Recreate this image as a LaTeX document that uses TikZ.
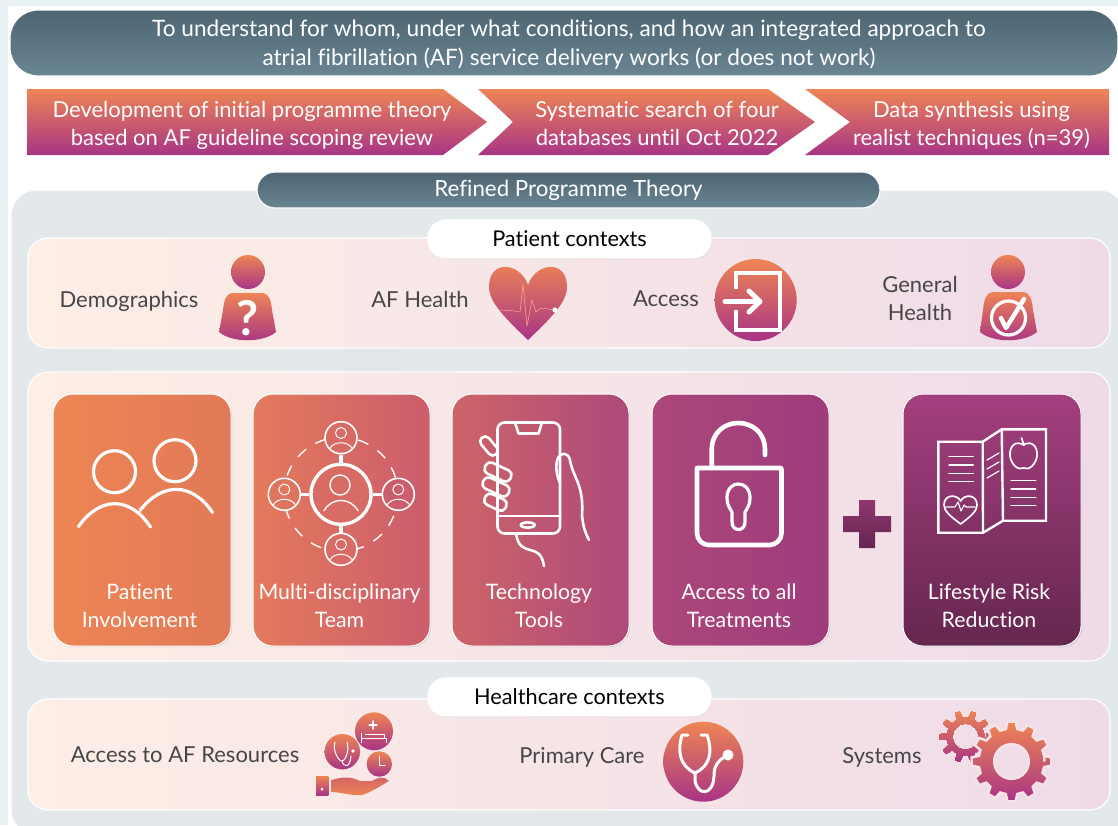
\documentclass[tikz,border=0pt]{standalone}
\usepackage{fontspec}
\setmainfont{Lato}[Ligatures=NoCommon]
\usepackage{xcolor}
\definecolor{ColOrange}{RGB}{238,133,84}
\definecolor{ColPurple}{RGB}{168,52,134}
\definecolor{ColPlum}{RGB}{163,62,128}
\definecolor{ColSlateT}{RGB}{78,101,114}
\definecolor{ColSlateB}{RGB}{106,133,146}
\definecolor{ColPanel}{RGB}{227,233,235}
\definecolor{ColPageL}{RGB}{232,242,245}
\definecolor{ColPeach}{RGB}{253,238,230}
\definecolor{ColPink}{RGB}{239,219,232}
\definecolor{ColText}{RGB}{70,70,72}
\usetikzlibrary{shadows,calc}
\tikzstyle{Grad}=[top color=ColOrange,bottom color=ColPurple]
\tikzstyle{Pill}=[rounded corners=18pt,draw=white,line width=1.2pt,inner sep=0pt]
\tikzstyle{Slate}=[Pill,top color=ColSlateT,bottom color=ColSlateB]
\tikzstyle{Label}=[font=\fontsize{22}{28}\selectfont,text=ColText,align=center]
\tikzstyle{Banner}=[font=\fontsize{22.6}{29}\selectfont,text=white,align=center]
\tikzstyle{StepText}=[font=\fontsize{22}{28}\selectfont,text=white!94!ColPeach,align=center]
\tikzstyle{WhitePill}=[Pill,fill=white,drop shadow={opacity=.25,shadow xshift=.5pt,shadow yshift=-1pt},
font=\fontsize{21.7}{26}\selectfont,text=black]
\tikzstyle{Band}=[rectangle,rounded corners=20pt,draw=white,line width=1.2pt,left color=ColPeach,
right color=ColPink,middle color=ColPink!50!ColPeach,minimum width=1082pt,inner sep=0pt]
\tikzstyle{Card}=[rectangle,rounded corners=20pt,draw=white,line width=1pt,minimum height=252pt,inner sep=0pt,
drop shadow={opacity=.3,shadow xshift=1pt,shadow yshift=-1pt}]
\tikzstyle{CardText}=[font=\fontsize{21.3}{28}\selectfont,text=white!94!ColPeach,align=center]
\tikzstyle{Ink}=[draw=white!94!ColPeach,line cap=round,line join=round,fill=none,line width=2.6pt]
\tikzstyle{Hub}=[circle,draw=white!94!ColPeach,line width=3.4pt,inner sep=0pt]
\newcommand{\Gear}[5]{% centre, teeth, outer radius, hole radius, halo width
  \begin{scope}[shift={#1}]
    \pgfmathsetmacro{\GearStep}{360/#2}
    \path[Grad,draw=ColPink!60!ColPeach,line width=#5,even odd rule]
      (0:#3-7) \foreach \a in {0,\GearStep,...,359}{
        -- ({\a-.33*\GearStep}:#3-7) -- ({\a-.2*\GearStep}:#3) -- ({\a+.2*\GearStep}:#3)
        -- ({\a+.33*\GearStep}:#3-7) -- ({\a+.67*\GearStep}:#3-7)}
      -- cycle (0,0) circle (#4);
  \end{scope}}
\newcommand{\Smallperson}[1]{% head and shoulders of a satellite
    \draw[Ink,line width=1pt](#1)circle(5.5);
    \draw[Ink,line width=1pt]($(#1)+(-11,15)$)..controls($(#1)+(-6,8)$)and($(#1)+(6,8)$)..($(#1)+(11,15)$);}
\begin{document}
\begin{tikzpicture}[x=1pt,y=-1pt]
        \useasboundingbox(0,0)rectangle(1118,825);
        \fill[white](0,0)rectangle(1118,825);
        \fill[ColPageL](0,0)rectangle(1118,6);
        \fill[ColPageL](0,0)rectangle(8,825);
        %
        \path[draw=white,line width=1.2pt,top color=ColSlateT,bottom color=ColSlateB,rounded corners=28pt]
            (10,10)rectangle(1118,76);
        \node[Banner](Aim)at(569,44.5){To understand for whom, under what conditions, and how an integrated approach to\\
            atrial fibrillation (AF) service delivery works (or does not work)};
        %
        \path[Grad](27,89)--(443,89)--(487,122)--(443,155)--(27,155)--cycle;
        \path[Grad](478,89)--(768,89)--(815,122)--(768,155)--(478,155)--(513,122)--cycle;
        \path[Grad](805,89)--(1109,89)--(1109,155)--(805,155)--(850,122)--cycle;
        \node[StepText](Step1)at(252,125){Development of initial programme theory\\based on AF guideline scoping review};
        \node[StepText](Step2)at(657,123.5){Systematic search of four\\databases until Oct 2022};
        \node[StepText](Step3)at(971.5,125){Data synthesis using\\realist techniques (n=39)};
        %
        \path[draw=white,line width=1.2pt,fill=ColPanel,rounded corners=25pt](11,190)rectangle(1125,835);
        \node[Slate,minimum width=623pt,minimum height=36pt,font=\fontsize{22.3}{26}\selectfont,text=white](Refined)at(568.5,190){\raisebox{-2pt}{Refined Programme Theory}};
        %
        \node[Band,minimum height=110pt](PatientBand)at(569,293){};
        \node[Band,minimum height=289pt](CoreBand)at(569,516.5){};
        \node[Band,minimum height=111pt](CareBand)at(569,754.5){};
        \node[WhitePill,minimum width=283pt,minimum height=38pt](PatientCtx)at(569.5,239){Patient contexts};
        \node[WhitePill,minimum width=283pt,minimum height=38pt](CareCtx)at(569.5,697){Healthcare contexts};
        %
        \node[Label](Demo)at(129,301){Demographics};
        \node[Label](Health)at(420,299){AF Health};
        \node[Label](Access)at(666,299){Access};
        \node[Label](General)at(920,298){General\\Health};
        \node[Label](Resources)at(185,755){Access to AF Resources};
        \node[Label](Primary)at(582,757){Primary Care};
        \node[Label](Systems)at(882,757){Systems};
        %
        % person with question
        \path[Grad](248,272)circle(17);
        \path[Grad](232,293)..controls(226,294)and(224,300)..(223,310)--(219,332)..controls(232,343)and(263,343)..(276,332)
            --(272,310)..controls(271,300)and(269,294)..(263,293)--cycle;
        \node[font=\fontsize{48}{48}\selectfont\bfseries,text=white,inner sep=0pt](Query)at(247.5,318){?};
        % heart
        \path[Grad](528,340)..controls(505,318)and(489,302)..(489,287)..controls(489,259)and(520,262)..(528,285)
            ..controls(536,262)and(567,259)..(567,287)..controls(567,302)and(551,318)..(528,340)--cycle;
        \draw[ColPeach!45!ColOrange,line width=.5pt,line join=round](500,310)--(514,311)--(520,312)--(523,284)--(527,326)--(532,300)--(536,312)--(541,308)--(555,310);
        \fill[white!90!ColPeach](555,310)circle(2.6);
        % door
        \path[Grad](755.7,300)circle(41);
        \draw[Ink,line width=4.6pt,line cap=butt,line join=miter](736,289)--(736,273)--(780,273)--(780,330)--(736,330)--(736,310);
        \draw[Ink,line width=5pt](725,301.5)--(759,301.5);
        \draw[Ink,line width=5pt](749,291)--(760,301.5)--(749,312);
        % person with tick
        \path[Grad](1008,272)circle(17);
        \path[Grad](992,292)..controls(986,293)and(984,300)..(983,310)--(980,332)..controls(993,343)and(1024,343)..(1037,332)
            --(1033,310)..controls(1032,300)and(1030,293)..(1024,292)--cycle;
        \draw[Ink,line width=3.2pt](1008.5,318)circle(17);
        \draw[Ink,line width=4.4pt](1001,318)--(1006,328)--(1024,299);
        %
        \node[Card,minimum width=178pt,left color=ColOrange,right color=ColOrange!88!ColPurple!98!black](Card1)at(142,520){};
        \node[Card,minimum width=177pt,left color=ColOrange!86!ColPurple,right color=ColOrange!50!ColPurple](Card2)at(341.5,520){};
        \node[Card,minimum width=177pt,left color=ColOrange!55!ColPlum,right color=ColOrange!15!ColPlum](Card3)at(540.5,520){};
        \node[Card,minimum width=177pt,left color=ColOrange!12!ColPlum,right color=ColPlum!97!black](Card4)at(740.5,520){};
        \node[Card,minimum width=178pt,top color=ColPlum!98!ColOrange,bottom color=ColPlum!62!black](Card5)at(992,520){};
        \node[CardText](Label1)at(139.5,605.5){Patient\\Involvement};
        \node[CardText](Label2)at(339.5,605.5){Multi-disciplinary\\Team};
        \node[CardText](Label3)at(539,605.5){Technology\\Tools};
        \node[CardText](Label4)at(739,605.5){Access to all\\Treatments};
        \node[CardText](Label5)at(989,605.5){Lifestyle Risk\\Reduction};
        % plus
        \path[top color=ColPlum!88!black,bottom color=ColPlum!62!black]
            (859,500)--(875,500)--(875,516)--(891,516)--(891,532)--(875,532)--(875,548)--(859,548)--(859,532)--(843,532)--(843,516)--(859,516)--cycle;
        % two people
        \draw[Ink,line width=3.2pt](114.5,471.7)circle(21);
        \draw[Ink,line width=3.2pt](175,460.7)circle(21);
        \draw[Ink,line width=3.2pt](78.5,526.5)..controls(100,496)and(130,496)..(150.5,527);
        \draw[Ink,line width=3.2pt](140,510.5)..controls(162,482)and(192,482)..(212.5,512.5);
        % team
        \draw[Ink,line width=1.4pt,dash pattern=on 11pt off 11pt,line cap=butt](341,494.3)circle(57);
        \node[Hub,fill=ColOrange!68!ColPurple,minimum size=60pt](TeamHub)at(341,494.3){};
        \node[Hub,line width=1.6pt,fill=ColOrange!68!ColPurple,minimum size=32pt](TeamN)at(341,437.7){};
        \node[Hub,line width=1.6pt,fill=ColOrange!52!ColPurple,minimum size=32pt](TeamE)at(398.3,494.3){};
        \node[Hub,line width=1.6pt,fill=ColOrange!68!ColPurple,minimum size=32pt](TeamS)at(341,549.3){};
        \node[Hub,line width=1.6pt,fill=ColOrange!80!ColPurple,minimum size=32pt](TeamW)at(284.3,494.3){};
        \draw[Ink,line cap=butt,line width=3.4pt](TeamHub)--(TeamN);
        \draw[Ink,line cap=butt,line width=3.4pt](TeamHub)--(TeamE);
        \draw[Ink,line cap=butt,line width=3.4pt](TeamHub)--(TeamS);
        \draw[Ink,line cap=butt,line width=3.4pt](TeamHub)--(TeamW);
        \draw[Ink,line width=1.4pt](340,485)circle(10);
        \draw[Ink,line width=1.4pt](324,510.7)..controls(332,497)and(350,497)..(358,510.7);
        \Smallperson{341,433}
        \Smallperson{398.3,489.5}
        \Smallperson{341,544.5}
        \Smallperson{284.3,489.5}
        % phone in hand
        \draw[Ink,rounded corners=7pt](497.5,422.5)rectangle(560,533.5);
        \draw[Ink](515,422.5)--(518.5,433.5)--(538.5,433.5)--(542,422.5);
        \draw[Ink](497.5,516)--(560,516);
        \draw[Ink](527.7,525)ellipse(7 and 2.6);
        \draw[Ink,rounded corners=5pt,rotate around={-50:(489,446)}](478,441)rectangle(500,451);
        \draw[Ink,rounded corners=5pt,rotate around={-25:(498,472)}](484,466)rectangle(512,478);
        \draw[Ink,rounded corners=5pt,rotate around={-25:(496,487)}](482,481)rectangle(510,493);
        \draw[Ink,rounded corners=5pt,rotate around={-25:(495,502)}](484,496)rectangle(507,508);
        \draw[Ink](560,483)..controls(555,472)and(556,462)..(558,458)..controls(561,452)and(568,452)..(570,460)
            ..controls(573,478)and(584,484)..(582,515)..controls(583,525)and(584,530)..(589,540);
        \draw[Ink](516,533.5)..controls(520,560)and(540,540)..(544,566);
        % open lock
        \draw[Ink,line width=4.6pt,rounded corners=1pt](697,468)--(781.5,468)--(781.5,530)[rounded corners=12pt]--(781.5,545)--(697,545)--(697,468);
        \draw[Ink,line width=4.6pt](711.7,468)--(711.7,450)..controls(711.7,414)and(765,414)..(765,450)--(765,455);
        \draw[Ink,line width=3.2pt](732,512)..controls(722,498)and(728,484)..(738.3,484)..controls(749,484)and(755,498)..(745,512)
            --(745,522)..controls(745,532)and(732,532)..(732,522)--cycle;
        % brochure
        \draw[Ink,line width=2.4pt,line cap=butt,line join=miter](938.3,441.7)--(982.7,441.7)--(1001.7,429.3)--(1046,429.3)--(1046,520.7)--(1003,520.7)--(983,532.7)--(938.3,532.7)--cycle;
        \draw[Ink,line width=2.4pt,line cap=butt](982.7,441.7)--(983,532.7);
        \draw[Ink,line width=2.4pt,line cap=butt](1001.7,429.3)--(1003,520.7);
        \foreach \y in {456.7,465,473.3,481.7}
            \draw[Ink,line width=1.2pt](949,\y)--(973.3,\y);
        \foreach \y in {480.7,489,497.3,505.7}
            \draw[Ink,line width=1.2pt](1011,\y)--(1035.7,\y);
        \foreach \y in {460,469,478}
            \draw[Ink,line width=1.2pt](987,\y)--(999,\y-7);
        \draw[Ink,line width=1.7pt](960.7,524)..controls(950,516)and(944,511)..(944,505)..controls(944,494)and(957,494)..(960.7,501)
            ..controls(964,494)and(977,494)..(977,505)..controls(977,511)and(971,516)..(960.7,524)--cycle;
        \draw[Ink,line width=1.1pt](946,507)--(955,507)--(958,502)--(961,511)--(964,505)--(966,507)--(975,507);
        \draw[Ink,line width=1.7pt](1023.5,445)..controls(1016,440)and(1009,446)..(1010,456)..controls(1011,464)and(1018,471)..(1023.5,468)
            ..controls(1029,471)and(1036,464)..(1037,456)..controls(1038,446)and(1031,440)..(1023.5,445)--cycle;
        \draw[Ink,line width=1.7pt](1021.5,438)--(1024,445);
        %
        % hand and care circles
        \path[Grad](374,731.3)circle(19);
        \path[Grad](342.3,751.7)circle(17.7);
        \path[Grad](379.3,764)circle(12.7);
        \path[Grad](316,776)rectangle(328.3,795);
        \fill[white!90!ColPeach](322,789)circle(1.5);
        \path[left color=ColOrange!60!ColPurple,right color=ColOrange,shading angle=0]
            (331.5,780)..controls(345,776)and(352,777)..(360,781)--(372,781)..controls(378,777)and(385,776)..(389,781)
            ..controls(380,786)and(372,792)..(362,795)..controls(352,796)and(340,792)..(331.5,792)--cycle;
        \draw[Ink,line width=1pt,line cap=butt](361,733)--(361,743)(361,738.5)--(386,738.5)--(386,743)(365,734)--(384,734)--(384,738.5);
        \draw[Ink,line width=1.2pt](373,721)--(373,729)(369,725)--(377,725);
        \draw[Ink,line width=1pt](379,756)--(379,765)--(385,765);
        \draw[Ink,line width=1pt](335,742)..controls(332,752)and(340,762)..(342,761)..controls(344,762)and(350,752)..(347,742);
        \draw[Ink,line width=1pt](342,761)..controls(344,768)and(350,768)..(351,756);
        \fill[white!90!ColPeach](353,751)circle(1.8);
        % stethoscope
        \path[Grad](703.3,761.7)circle(40);
        \draw[Ink,line width=3pt](688,735)--(682,735)..controls(677,752)and(680,766)..(695,773)..controls(710,766)and(713,752)..(707,735)--(701,735);
        \draw[Ink,line width=3pt](695,773)--(695,781)..controls(698,796)and(713,796)..(714,776)..controls(714,766)and(718,760)..(725,757);
        \fill[white!92!ColPeach](728,755)circle(5.5);
        % cogs
        \Gear{(965.5,736.5)}{10}{27}{12}{0pt}
        \Gear{(1011.5,761.5)}{12}{40}{17.3}{2.5pt}
    \end{tikzpicture}
\end{document}
